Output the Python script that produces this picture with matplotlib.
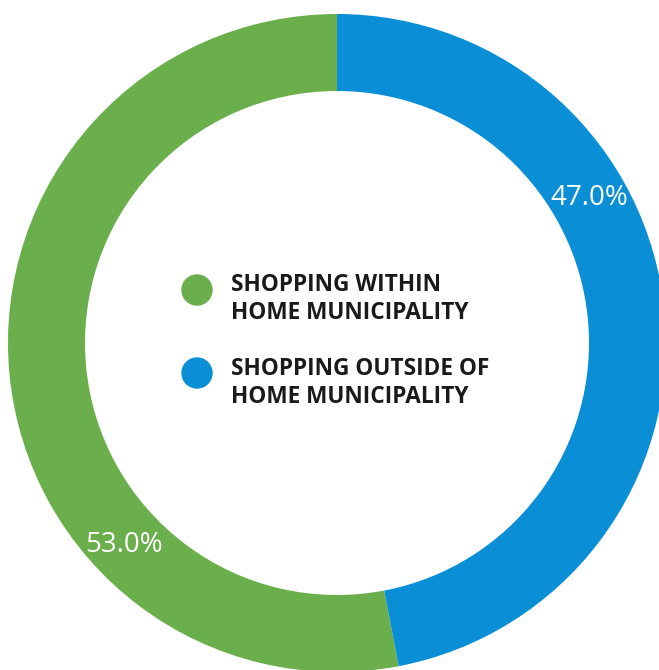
import matplotlib.pyplot as plt
from matplotlib.patches import Circle

labels = ["SHOPPING WITHIN\nHOME MUNICIPALITY", "SHOPPING OUTSIDE OF\nHOME MUNICIPALITY"]
shares = [53.0, 47.0]
colors = ["#6BAE4C", "#0A8ED6"]

W, H = 659, 670
fig = plt.figure(figsize=(W / 100, H / 100), dpi=100)
ax = fig.add_axes([0, 0, 1, 1])

cx, cy = 337, H - 343
R = 329
ax.pie(shares, colors=colors, startangle=90, counterclock=True,
       radius=R, center=(cx, cy), frame=True,
       wedgeprops=dict(width=77, edgecolor="none"))
ax.set_xlim(0, W)
ax.set_ylim(0, H)
ax.set_aspect("equal")
ax.axis("off")

# percentage labels
label_pos = [(124, H - 545), (589, H - 198)]
for (x, y), v in zip(label_pos, shares):
    ax.text(x, y, f"{v:.1f}%", color="white", fontsize=20,
            family="Open Sans", ha="center", va="center")

# legend in the hole
for i, (lab, c) in enumerate(zip(labels, colors)):
    ax.add_patch(Circle((197, H - (290 + i * 83)), 15, color=c))
    ax.text(231, H - (299 + i * 84), lab, fontsize=16.3, fontweight="bold",
            family="Open Sans", color="#1a1a1a", ha="left", va="center",
            linespacing=1.2)

fig.savefig("out.png", dpi=100)
